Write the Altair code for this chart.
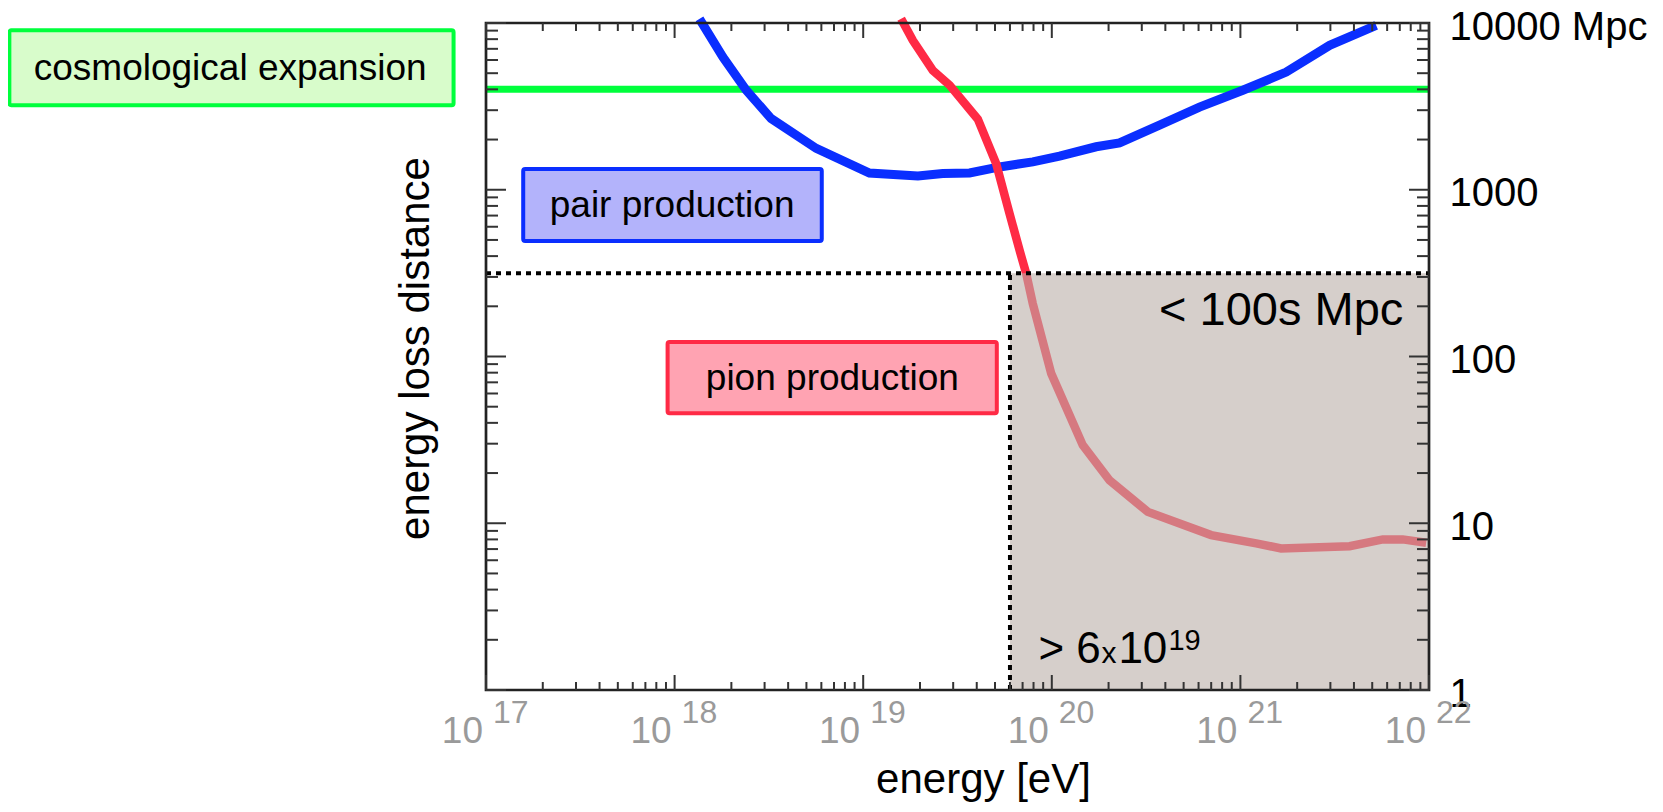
import altair as alt
import pandas as pd

# ---------------- data ----------------
blue_energy = [1.355e18, 1.803e18, 2.399e18, 3.251e18, 5.636e18, 1.079e19, 1.950e19,
               2.642e19, 3.664e19, 5.284e19, 7.925e19, 1.099e20, 1.718e20, 2.286e20,
               3.724e20, 6.067e20, 1.030e21, 1.750e21, 2.972e21, 5.248e21]
blue_dist = [10600, 6250, 3950, 2670, 1770, 1260, 1210, 1250, 1260, 1370, 1470, 1590,
             1810, 1910, 2440, 3130, 3950, 5080, 7350, 9680]

red_energy = [1.589e19, 1.832e19, 2.339e19, 2.871e19, 4.055e19, 5.070e19, 5.970e19,
              6.745e19, 7.311e19, 7.925e19, 9.931e19, 1.459e20, 2.023e20, 3.228e20,
              6.998e20, 1.213e21, 1.644e21, 3.793e21, 5.689e21, 7.261e21, 9.661e21]
red_dist = [10600, 7870, 5200, 4240, 2650, 1435, 719, 434, 315, 208, 79.1, 29.4, 18.1,
            11.7, 8.49, 7.57, 7.06, 7.29, 8.0, 8.0, 7.64]

cosmo_dist = 4000
cut_energy = 6e19
cut_dist = 316
energy_range = [1e17, 1e22]
dist_range = [1, 10000]

x_exponents = ["17", "18", "19", "20", "21", "22"]
x_major = [1e17, 1e18, 1e19, 1e20, 1e21, 1e22]
y_major = [1, 10, 100, 1000, 10000]
minor_mult = [2, 3, 4, 5, 6, 7, 8, 9]
x_minor = [m * d for d in x_major[:-1] for m in minor_mult]
y_minor = [m * d for d in y_major[:-1] for m in minor_mult]

# annotation boxes
box_label = ["cosmological expansion", "pair production", "pion production"]
box_e1 = [2.97e14, 1.575e17, 9.18e17]
box_e2 = [6.73e16, 6.03e18, 5.11e19]
box_d1 = [3214, 493, 45.7]
box_d2 = [9036, 1334, 122]
box_text_e = [4.4e15, 9.7e17, 6.86e18]
box_text_d = [4560, 687, 63.2]
box_fill = ["#d8fccb", "#b3b3fb", "#ffa3b2"]
box_stroke = ["#00ff3c", "#0a2eff", "#ff2a45"]

W, H = 943, 667
FONT = "Liberation Sans"

xs = alt.Scale(type="log", domain=energy_range, nice=False)
ys = alt.Scale(type="log", domain=dist_range, nice=False)


def X(field):
    return alt.X(field, type="quantitative", scale=xs, axis=None)


def Y(field):
    return alt.Y(field, type="quantitative", scale=ys, axis=None)


one = pd.DataFrame({"k": [0]})

# ---------------- layers ----------------
green = alt.Chart(pd.DataFrame({"e": [energy_range[0]], "e2": [energy_range[1]], "d": [cosmo_dist]})).mark_rule(
    color="#00ff3c", strokeWidth=7
).encode(
    x=X("e"),
    x2="e2:Q",
    y=alt.Y("d:Q", scale=ys, axis=alt.Axis(
        orient="left", labels=False, ticks=False, domain=False, grid=False,
        title="energy loss distance", titleFont=FONT, titleFontSize=42,
        titleFontWeight="normal", titleColor="black", titleAngle=270,
        titleX=-58, titleY=325, titleBaseline="alphabetic")),
)

blue_df = pd.DataFrame({"e": blue_energy, "d": blue_dist, "o": list(range(len(blue_energy)))})
blue = alt.Chart(blue_df).mark_line(color="#0a2eff", strokeWidth=9).encode(
    x=X("e"),
    y=alt.Y("d:Q", scale=ys, axis=alt.Axis(
        orient="right", values=y_major, grid=False, ticks=False, tickSize=0, domain=False,
        labelExpr="datum.value >= 10000 ? '10000 Mpc' : format(datum.value, 'd')",
        labelFont=FONT, labelFontSize=40, labelColor="black", labelPadding=20,
        labelBaseline="middle", labelFlush=False, labelOverlap=False, labelBound=False,
        labelOffset=4, labelLimit=400, title=None)),
    order="o:Q",
)

red_df = pd.DataFrame({"e": red_energy, "d": red_dist, "o": list(range(len(red_energy)))})
red = alt.Chart(red_df).mark_line(color="#ff2a45", strokeWidth=8.5).encode(
    x=X("e"), y=Y("d"), order="o:Q"
)

shade = alt.Chart(pd.DataFrame({"e": [cut_energy], "e2": [energy_range[1]],
                                "d": [dist_range[0]], "d2": [cut_dist]})).mark_rect(
    color="#bbafa8", opacity=0.6
).encode(x=X("e"), x2="e2:Q", y=Y("d"), y2="d2:Q")

hdot = alt.Chart(pd.DataFrame({"e": [energy_range[0]], "e2": [energy_range[1]], "d": [cut_dist]})).mark_rule(
    color="black", strokeWidth=4, strokeDash=[5, 5]
).encode(x=X("e"), x2="e2:Q", y=Y("d"))

vdot = alt.Chart(pd.DataFrame({"e": [cut_energy], "d": [dist_range[0]], "d2": [cut_dist]})).mark_rule(
    color="black", strokeWidth=4, strokeDash=[5, 5]
).encode(x=X("e"), y=Y("d"), y2="d2:Q")

# ---------------- frame and inward ticks ----------------
frame = alt.Chart(pd.DataFrame({"e": [energy_range[0]], "e2": [energy_range[1]],
                                "d": [dist_range[0]], "d2": [dist_range[1]]})).mark_rect(
    fillOpacity=0, stroke="#222222", strokeWidth=2.7
).encode(x=X("e"), x2="e2:Q", y=Y("d"), y2="d2:Q")

TC = "#333333"
xmaj_df = pd.DataFrame({"e": x_major})
xmin_df = pd.DataFrame({"e": x_minor})
ymaj_df = pd.DataFrame({"d": y_major})
ymin_df = pd.DataFrame({"d": y_minor})

ticks = [
    alt.Chart(xmaj_df).mark_rule(color=TC, strokeWidth=2).encode(x=X("e"), y=alt.value(H), y2=alt.value(H - 15)),
    alt.Chart(xmin_df).mark_rule(color=TC, strokeWidth=2).encode(x=X("e"), y=alt.value(H), y2=alt.value(H - 8)),
    alt.Chart(xmaj_df).mark_rule(color=TC, strokeWidth=2).encode(x=X("e"), y=alt.value(0), y2=alt.value(15)),
    alt.Chart(xmin_df).mark_rule(color=TC, strokeWidth=2).encode(x=X("e"), y=alt.value(0), y2=alt.value(8)),
    alt.Chart(ymaj_df).mark_rule(color=TC, strokeWidth=2).encode(y=Y("d"), x=alt.value(0), x2=alt.value(20)),
    alt.Chart(ymin_df).mark_rule(color=TC, strokeWidth=2).encode(y=Y("d"), x=alt.value(0), x2=alt.value(12)),
    alt.Chart(ymaj_df).mark_rule(color=TC, strokeWidth=2).encode(y=Y("d"), x=alt.value(W), x2=alt.value(W - 20)),
    alt.Chart(ymin_df).mark_rule(color=TC, strokeWidth=2).encode(y=Y("d"), x=alt.value(W), x2=alt.value(W - 12)),
]

# ---------------- x tick labels 10^n and x title ----------------
xl_df = pd.DataFrame({"e": x_major, "ex": x_exponents})
xlab_base = alt.Chart(xl_df).mark_text(
    align="right", baseline="alphabetic", font=FONT, fontSize=37, color="#9a9a9a", dx=-3
).encode(x=X("e"), y=alt.value(H + 53), text=alt.value("10"))
xlab_exp = alt.Chart(xl_df).mark_text(
    align="left", baseline="alphabetic", font=FONT, fontSize=32, color="#9a9a9a", dx=7
).encode(x=X("e"), y=alt.value(H + 33), text="ex:N")

x_title = alt.Chart(one).mark_text(
    align="center", baseline="alphabetic", font=FONT, fontSize=42, color="black"
).encode(x=alt.value(W / 2 + 26), y=alt.value(H + 103), text=alt.value("energy [eV]"))

# ---------------- annotation boxes ----------------
box_df = pd.DataFrame({"label": box_label, "e1": box_e1, "e2": box_e2, "d1": box_d1, "d2": box_d2,
                       "te": box_text_e, "td": box_text_d, "fill": box_fill, "stroke": box_stroke})
boxes = alt.Chart(box_df).mark_rect(strokeWidth=4, cornerRadius=2).encode(
    x=X("e1"), x2="e2:Q", y=Y("d1"), y2="d2:Q",
    fill=alt.Fill("fill:N", scale=None), stroke=alt.Stroke("stroke:N", scale=None),
)
box_text = alt.Chart(box_df).mark_text(
    align="center", baseline="alphabetic", font=FONT, fontSize=37, color="black"
).encode(x=X("te"), y=Y("td"), text="label:N")

# ---------------- region texts ----------------
mpc_text = alt.Chart(pd.DataFrame({"e": [7.31e21], "d": [154], "t": ["< 100s Mpc"]})).mark_text(
    align="right", baseline="alphabetic", font=FONT, fontSize=47, color="black"
).encode(x=X("e"), y=Y("d"), text="t:N")

cut_df = pd.DataFrame({"e": [8.49e19], "d": [1.449]})
cut_parts = [
    alt.Chart(cut_df).mark_text(align="left", baseline="alphabetic", font=FONT, fontSize=44, color="black", dx=0)
    .encode(x=X("e"), y=Y("d"), text=alt.value("> 6")),
    alt.Chart(cut_df).mark_text(align="left", baseline="alphabetic", font=FONT, fontSize=30, color="black", dx=63)
    .encode(x=X("e"), y=Y("d"), text=alt.value("x")),
    alt.Chart(cut_df).mark_text(align="left", baseline="alphabetic", font=FONT, fontSize=44, color="black", dx=80)
    .encode(x=X("e"), y=Y("d"), text=alt.value("10")),
    alt.Chart(cut_df).mark_text(align="left", baseline="alphabetic", font=FONT, fontSize=29, color="black", dx=130, dy=-13)
    .encode(x=X("e"), y=Y("d"), text=alt.value("19")),
]

chart = alt.layer(
    green, blue, red, shade, hdot, vdot, frame, *ticks, xlab_base, xlab_exp, x_title,
    boxes, box_text, mpc_text, *cut_parts
).resolve_axis(y="independent").properties(
    width=W, height=H,
    autosize=alt.AutoSizeParams(type="none"),
    padding={"left": 478, "top": 15, "right": 226, "bottom": 114},
).configure_view(stroke=None, fill="white").configure(background="white")

chart.save("out.html", embed_options={"renderer": "svg", "actions": False})
